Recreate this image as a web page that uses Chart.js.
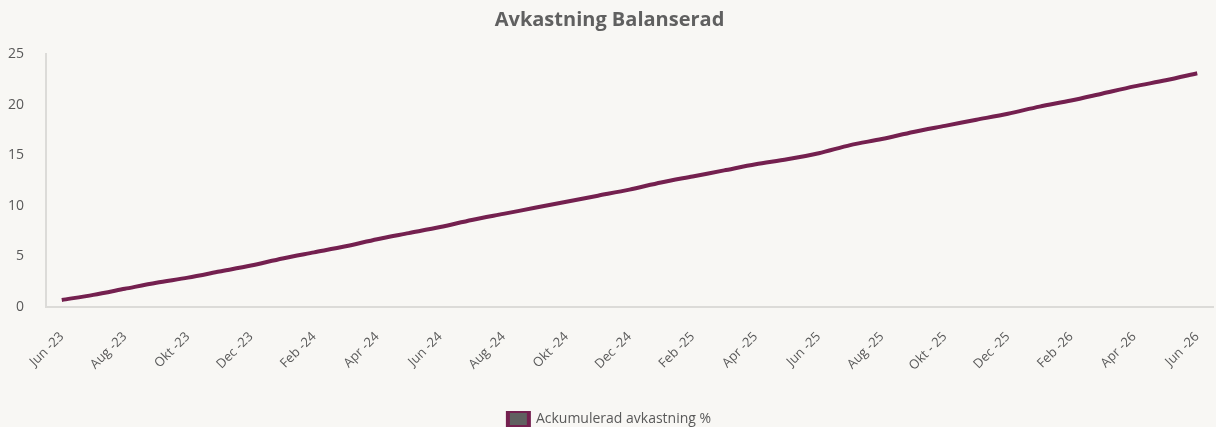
<!DOCTYPE html>
<html>
<head>
<meta charset="utf-8">
<script src="https://cdn.jsdelivr.net/npm/chart.js@4"></script>
<style>
  html, body { margin: 0; padding: 0; background: #f8f7f4; }
  #wrap { width: 1216px; height: 427px; }
</style>
</head>
<body>
<div id="wrap"><canvas id="chart"></canvas></div>
<script>
// monthly points, Jun 2023 - Jun 2026
const months = [
  "Jun -23", "Jul -23", "Aug -23", "Sep -23", "Okt -23", "Nov -23", "Dec -23",
  "Jan -24", "Feb -24", "Mar -24", "Apr -24", "Maj -24", "Jun -24", "Jul -24",
  "Aug -24", "Sep -24", "Okt -24", "Nov -24", "Dec -24", "Jan -25", "Feb -25",
  "Mar -25", "Apr -25", "Maj -25", "Jun -25", "Jul -25", "Aug -25", "Sep -25",
  "Okt - 25", "Nov -25", "Dec -25", "Jan -26", "Feb -26", "Mar -26", "Apr -26",
  "Maj -26", "Jun -26"
];
const avkastning = [
  0.7, 1.2, 1.8, 2.4, 2.9, 3.5, 4.1,
  4.8, 5.4, 6.0, 6.7, 7.3, 7.9, 8.6,
  9.2, 9.8, 10.4, 11.0, 11.6, 12.3, 12.9,
  13.5, 14.1, 14.6, 15.2, 16.0, 16.6, 17.3,
  17.9, 18.5, 19.1, 19.8, 20.4, 21.1, 21.8,
  22.4, 23.1
];
const yTicks = [0, 5, 10, 15, 20, 25];

const ctx = document.getElementById('chart').getContext('2d');
new Chart(ctx, {
  type: 'line',
  data: {
    labels: months,
    datasets: [{
      label: 'Ackumulerad avkastning %',
      data: avkastning,
      borderColor: '#74204f',
      backgroundColor: '#606060',
      borderWidth: 4,
      pointRadius: 0,
      tension: 0.3,
      fill: false
    }]
  },
  options: {
    responsive: true,
    maintainAspectRatio: false,
    animation: false,
    layout: { padding: { left: 6, right: 3, top: 0, bottom: -10 } },
    plugins: {
      title: {
        display: true,
        text: 'Avkastning Balanserad',
        color: '#606060',
        font: { family: 'Open Sans', size: 20, weight: 'bold' },
        padding: { top: 8, bottom: 22 }
      },
      legend: {
        position: 'bottom',
        labels: {
          color: '#595959',
          font: { family: 'Open Sans', size: 14 },
          boxWidth: 21,
          boxHeight: 16,
          padding: 0
        }
      },
      tooltip: { enabled: false }
    },
    scales: {
      x: {
        offset: true,
        grid: { display: false },
        border: { display: true, color: '#dcdbd8', width: 2 },
        afterFit: function (axis) {
          axis.paddingLeft = 0;
          axis.paddingRight = 0;
          axis.height = 104;
        },
        ticks: {
          autoSkip: false,
          maxRotation: 45,
          minRotation: 45,
          color: '#595959',
          font: { family: 'Open Sans', size: 13 },
          padding: 14,
          callback: function (v, i) { return i % 2 === 0 ? months[i] : null; }
        }
      },
      y: {
        min: 0,
        max: 25,
        grid: { display: false },
        border: { display: true, color: '#dcdbd8', width: 2 },
        afterBuildTicks: function (axis) { axis.ticks = yTicks.map(v => ({ value: v })); },
        afterFit: function (axis) { axis.width = 40; },
        ticks: {
          color: '#595959',
          font: { family: 'Open Sans', size: 14 },
          padding: 14
        }
      }
    }
  }
});
</script>
</body>
</html>
